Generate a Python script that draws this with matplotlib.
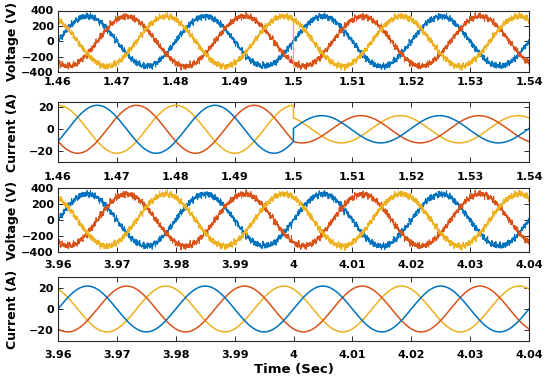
import numpy as np
import matplotlib
matplotlib.use("Agg")
import matplotlib.pyplot as plt
from matplotlib.ticker import FuncFormatter

# ---------------- data ----------------
freq_hz = 50.0
v_peak = 325.0                      # fundamental voltage peak (V)
i_peak_before = 22.0                # current peak before switching (A)
i_peak_after = 12.5                 # current peak after switching (A)
i_peak_late = 21.5                  # current peak, second window (A)
i_lag_before = 0.00167              # current lag before switching (s)
i_lag_after = -0.0002               # current lag after switching (s)
i_lag_late = 0.0                    # current lag, second window (s)
step_time = 1.5                     # switching instant (s)
spike_value = -330.0                # one-sample transient on phase C voltage at the switch

window1 = [1.46, 1.54]
window2 = [3.96, 4.04]
xticks1 = [1.46, 1.47, 1.48, 1.49, 1.50, 1.51, 1.52, 1.53, 1.54]
xticks2 = [3.96, 3.97, 3.98, 3.99, 4.00, 4.01, 4.02, 4.03, 4.04]
v_ticks = [-400, -200, 0, 200, 400]
i_ticks = [-20, 0, 20]
v_lim = [-400, 400]
i_lim1 = [-30, 25]
i_lim2 = [-30, 30]

phase_shift_deg = [0, -120, 120]    # blue = A, red = B, yellow = C
colors = ["#0072BD", "#D95319", "#EDB120"]

# switching ripple on the measured voltages (frequency Hz, amplitude V, phase rad per line)
ripple_freq = [1130, 1570, 2210, 2930, 3470, 4190, 5030, 6110, 7270, 8830,
               9610, 11270, 12890, 14330, 15770, 17210, 18530]
ripple_amp = [8, 7, 9, 7, 8, 7, 7, 6, 7, 6, 6, 6, 6, 5, 6, 5, 5]
ripple_phase_a = [0.3, 1.9, 4.1, 2.7, 5.5, 0.8, 3.3, 6.0, 1.2, 4.6, 2.2, 5.1, 0.5, 3.7, 1.6, 4.9, 2.4]
ripple_phase_b = [2.1, 5.0, 0.6, 3.9, 1.4, 4.8, 0.2, 2.9, 5.7, 1.7, 3.6, 0.9, 4.3, 2.6, 5.9, 1.0, 3.2]
ripple_phase_c = [4.4, 0.7, 2.8, 5.6, 3.1, 2.0, 5.3, 1.1, 3.8, 0.4, 6.1, 2.5, 1.8, 5.2, 0.1, 3.5, 4.7]
ripple_phases = [ripple_phase_a, ripple_phase_b, ripple_phase_c]

fs = 40000.0
# ------------------------------------------------------------

plt.rcParams['font.family'] = ['DejaVu Sans']
plt.rcParams['font.weight'] = 'bold'

W, H = 550, 384
fig = plt.figure(figsize=(W / 100, H / 100), dpi=100)


def axes_px(left, top, right, bottom):
    return fig.add_axes([left / W, 1 - bottom / H, (right - left) / W, (bottom - top) / H])


def time_axis(win):
    n = int(round((win[1] - win[0]) * fs)) + 1
    return np.linspace(win[0], win[1], n)


def voltage(t, k):
    w = 2 * np.pi * freq_hz
    ph = np.deg2rad(phase_shift_deg[k])
    v = v_peak * np.sin(w * t + ph)
    for f, a, p in zip(ripple_freq, ripple_amp, ripple_phases[k]):
        v = v + a * np.sin(2 * np.pi * f * t + p)
    return v


def current(t, k, peak, lag):
    w = 2 * np.pi * freq_hz
    ph = np.deg2rad(phase_shift_deg[k])
    return peak * np.sin(w * (t - lag) + ph)


def style(ax, xticks, yticks, ylim, win, xpad):
    ax.set_xlim(win)
    ax.set_ylim(ylim)
    ax.set_xticks(xticks)
    ax.set_yticks(yticks)
    ax.xaxis.set_major_formatter(FuncFormatter(lambda v, p: f"{v:g}"))
    ax.tick_params(direction='in', top=True, right=True, length=3.5, width=0.7,
                   labelsize=8, colors='#262626')
    ax.tick_params(axis='x', pad=xpad)
    ax.tick_params(axis='y', pad=3)
    for lab in ax.get_xticklabels() + ax.get_yticklabels():
        lab.set_fontweight('bold')
        lab.set_color('black')
    for s in ax.spines.values():
        s.set_color('#262626')
        s.set_linewidth(0.8)


label_x = -0.083

# Panel 1: voltage, first window
ax1 = axes_px(58, 10.5, 529, 72)
t1 = time_axis(window1)
for k in range(3):
    v = voltage(t1, k)
    if k == 2:
        idx = np.argmin(np.abs(t1 - step_time))
        v[idx] = spike_value
    ax1.plot(t1, v, color=colors[k], lw=0.75)
style(ax1, xticks1, v_ticks, v_lim, window1, 3.5)
ax1.set_ylabel("Voltage (V)", fontsize=9, fontweight='bold')
ax1.yaxis.set_label_coords(label_x, 0.5)

# Panel 2: current, first window
ax2 = axes_px(58, 102, 529, 162)
for k in [2, 1, 0]:
    i = np.where(t1 < step_time,
                 current(t1, k, i_peak_before, i_lag_before),
                 current(t1, k, i_peak_after, i_lag_after))
    ax2.plot(t1, i, color=colors[k], lw=1.1)
style(ax2, xticks1, i_ticks, i_lim1, window1, 7.5)
ax2.set_ylabel("Current (A)", fontsize=9, fontweight='bold')
ax2.yaxis.set_label_coords(label_x, 0.5)

# Panel 3: voltage, second window
ax3 = axes_px(58, 188, 529, 252)
t2 = time_axis(window2)
for k in range(3):
    ax3.plot(t2, voltage(t2, k), color=colors[k], lw=0.75)
style(ax3, xticks2, v_ticks, v_lim, window2, 5.5)
ax3.set_ylabel("Voltage (V)", fontsize=9, fontweight='bold')
ax3.yaxis.set_label_coords(label_x, 0.5)

# Panel 4: current, second window
ax4 = axes_px(58, 277, 529, 341)
for k in [2, 1, 0]:
    ax4.plot(t2, current(t2, k, i_peak_late, i_lag_late), color=colors[k], lw=1.1)
style(ax4, xticks2, i_ticks, i_lim2, window2, 6.5)
ax4.set_ylabel("Current (A)", fontsize=9, fontweight='bold')
ax4.yaxis.set_label_coords(label_x, 0.5)
ax4.set_xlabel("Time (Sec)", fontsize=9.5, fontweight='bold', labelpad=2)

fig.savefig("out.png", dpi=100)
